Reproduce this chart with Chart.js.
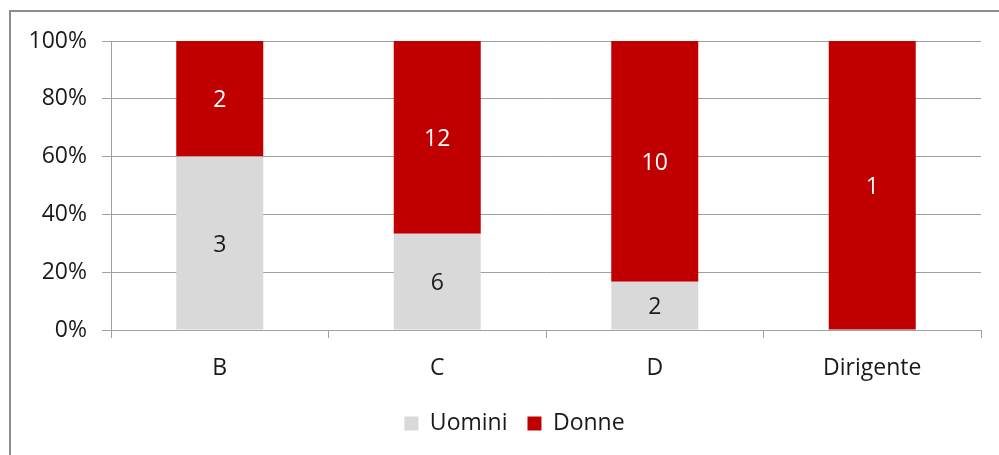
<!DOCTYPE html>
<html>
<head>
<meta charset="utf-8">
<script src="https://cdn.jsdelivr.net/npm/chart.js@4/dist/chart.umd.min.js"></script>
<style>
  html, body { margin: 0; padding: 0; background: #fff; overflow: hidden; }
  #cornice { position: absolute; left: 9px; top: 10px; width: 1100px; height: 600px; border: 2px solid #8c8c8c; }
  #box { position: absolute; left: 0; top: 0; width: 999px; height: 455px; }
</style>
</head>
<body>
<div id="cornice"></div>
<div id="box"><canvas id="grafico"></canvas></div>
<script>
// Dati
const categorie = ['B', 'C', 'D', 'Dirigente'];
const uomini = [3, 6, 2, 0];
const donne = [2, 12, 10, 1];
const tickPercentuali = [0, 20, 40, 60, 80, 100];

// percentuali per il grafico al 100%
const totali = categorie.map((c, i) => uomini[i] + donne[i]);
const perc = arr => arr.map((v, i) => v / totali[i] * 100);

const FONT = '"Open Sans", Lato, sans-serif';

// Etichette con i valori assoluti al centro delle barre
const etichette = {
    id: 'etichette',
    afterDatasetsDraw(chart) {
        const ctx = chart.ctx;
        ctx.save();
        ctx.font = '23px ' + FONT;
        ctx.textAlign = 'center';
        ctx.textBaseline = 'middle';
        chart.data.datasets.forEach((ds, di) => {
            const meta = chart.getDatasetMeta(di);
            meta.data.forEach((bar, i) => {
                const val = ds.conteggi[i];
                if (!val) return;
                const c = bar.getCenterPoint();
                ctx.fillStyle = ds.coloreEtichetta;
                ctx.fillText(String(val), c.x, c.y + 2);
            });
        });
        ctx.restore();
    }
};

// sposta un po' la legenda a destra, come nell'originale
const spostaLegenda = {
    id: 'spostaLegenda',
    afterLayout(chart) {
        chart.legend.left += 24;
        chart.legend.right += 24;
    }
};

const ctx = document.getElementById('grafico').getContext('2d');
const grafico = new Chart(ctx, {
    type: 'bar',
    data: {
        labels: categorie,
        datasets: [{
            label: 'Uomini',
            data: perc(uomini),
            conteggi: uomini,
            backgroundColor: '#d9d9d9',
            coloreEtichetta: '#1a1a1a',
            barPercentage: 0.4,
            categoryPercentage: 1
        }, {
            label: 'Donne',
            data: perc(donne),
            conteggi: donne,
            backgroundColor: '#c00000',
            coloreEtichetta: '#ffffff',
            barPercentage: 0.4,
            categoryPercentage: 1
        }]
    },
    options: {
        responsive: true,
        maintainAspectRatio: false,
        animation: false,
        layout: { padding: { left: 0, right: 18, top: 41, bottom: 10 } },
        plugins: {
            tooltip: { enabled: false },
            legend: {
                position: 'bottom',
                labels: {
                    boxWidth: 14,
                    boxHeight: 14,
                    padding: 20,
                    color: '#1a1a1a',
                    font: { family: FONT, size: 23 }
                }
            }
        },
        scales: {
            x: {
                stacked: true,
                grid: { drawOnChartArea: false, drawTicks: true, tickLength: 8, color: '#a0a0a0', offset: true },
                border: { color: '#a0a0a0', width: 1 },
                ticks: { color: '#1a1a1a', padding: 17, font: { family: FONT, size: 23 } },
                afterFit(scale) { scale.height = 62; }
            },
            y: {
                stacked: true,
                min: 0,
                max: 100,
                afterBuildTicks(scale) { scale.ticks = tickPercentuali.map(v => ({ value: v })); },
                grid: { color: '#a0a0a0', tickLength: 9, drawTicks: true },
                border: { color: '#a0a0a0', width: 1 },
                ticks: {
                    color: '#1a1a1a',
                    padding: 15,
                    font: { family: FONT, size: 23 },
                    callback: v => v + '%'
                },
                afterFit(scale) { scale.width = 111; }
            }
        }
    },
    plugins: [etichette, spostaLegenda]
});
</script>
</body>
</html>
